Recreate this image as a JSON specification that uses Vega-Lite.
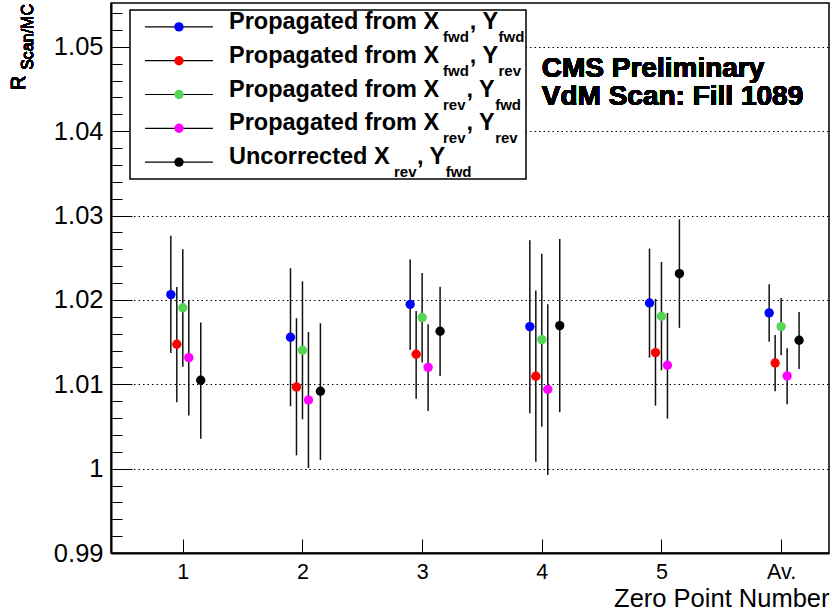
{
  "$schema": "https://vega.github.io/schema/vega-lite/v6.json",
  "width": 718,
  "height": 550,
  "autosize": {"type": "none"},
  "padding": {"left": 111, "top": 3, "right": 3, "bottom": 58},
  "background": "white",
  "config": {
    "view": {"stroke": "black", "strokeWidth": 1.5},
    "font": "Liberation Sans",
    "axis": {
      "domainColor": "black",
      "domainWidth": 2,
      "tickColor": "black",
      "tickWidth": 1,
      "labelColor": "black",
      "titleColor": "black",
      "labelFont": "Liberation Sans",
      "titleFont": "Liberation Sans",
      "titleFontWeight": "normal"
    }
  },
  "layer": [
    {
      "data": {
        "values": [
          {"series": "fwd-fwd", "x": 0.9, "r": 1.02063, "lo": 1.01370, "hi": 1.02762},
          {"series": "fwd-rev", "x": 0.95, "r": 1.01474, "lo": 1.00787, "hi": 1.02152},
          {"series": "rev-fwd", "x": 1.0, "r": 1.01908, "lo": 1.01209, "hi": 1.02600},
          {"series": "rev-rev", "x": 1.05, "r": 1.01316, "lo": 1.00629, "hi": 1.02000},
          {"series": "uncorrected", "x": 1.15, "r": 1.01048, "lo": 1.00355, "hi": 1.01731},
          {"series": "fwd-fwd", "x": 1.9, "r": 1.01557, "lo": 1.00739, "hi": 1.02376},
          {"series": "fwd-rev", "x": 1.95, "r": 1.00968, "lo": 1.00157, "hi": 1.01783},
          {"series": "rev-fwd", "x": 2.0, "r": 1.01404, "lo": 1.00585, "hi": 1.02221},
          {"series": "rev-rev", "x": 2.05, "r": 1.00814, "lo": 1.00008, "hi": 1.01620},
          {"series": "uncorrected", "x": 2.15, "r": 1.00917, "lo": 1.00103, "hi": 1.01723},
          {"series": "fwd-fwd", "x": 2.9, "r": 1.01948, "lo": 1.01410, "hi": 1.02478},
          {"series": "fwd-rev", "x": 2.95, "r": 1.01356, "lo": 1.00830, "hi": 1.01870},
          {"series": "rev-fwd", "x": 3.0, "r": 1.01791, "lo": 1.01257, "hi": 1.02320},
          {"series": "rev-rev", "x": 3.05, "r": 1.01201, "lo": 1.00683, "hi": 1.01711},
          {"series": "uncorrected", "x": 3.15, "r": 1.01629, "lo": 1.01099, "hi": 1.02155},
          {"series": "fwd-fwd", "x": 3.9, "r": 1.01684, "lo": 1.00657, "hi": 1.02707},
          {"series": "fwd-rev", "x": 3.95, "r": 1.01095, "lo": 1.00083, "hi": 1.02111},
          {"series": "rev-fwd", "x": 4.0, "r": 1.01530, "lo": 1.00498, "hi": 1.02546},
          {"series": "rev-rev", "x": 4.05, "r": 1.00940, "lo": 0.99925, "hi": 1.01948},
          {"series": "uncorrected", "x": 4.15, "r": 1.01696, "lo": 1.00669, "hi": 1.02723},
          {"series": "fwd-fwd", "x": 4.9, "r": 1.01964, "lo": 1.01316, "hi": 1.02609},
          {"series": "fwd-rev", "x": 4.95, "r": 1.01376, "lo": 1.00747, "hi": 1.02012},
          {"series": "rev-fwd", "x": 5.0, "r": 1.01806, "lo": 1.01166, "hi": 1.02450},
          {"series": "rev-rev", "x": 5.05, "r": 1.01225, "lo": 1.00593, "hi": 1.01845},
          {"series": "uncorrected", "x": 5.15, "r": 1.02312, "lo": 1.01669, "hi": 1.02956},
          {"series": "fwd-fwd", "x": 5.9, "r": 1.01846, "lo": 1.01505, "hi": 1.02187},
          {"series": "fwd-rev", "x": 5.95, "r": 1.01253, "lo": 1.00917, "hi": 1.01585},
          {"series": "rev-fwd", "x": 6.0, "r": 1.01684, "lo": 1.01344, "hi": 1.02024},
          {"series": "rev-rev", "x": 6.05, "r": 1.01099, "lo": 1.00763, "hi": 1.01427},
          {"series": "uncorrected", "x": 6.15, "r": 1.01522, "lo": 1.01181, "hi": 1.01858}
        ]
      },
      "layer": [
        {
          "mark": {"type": "rule", "color": "#111", "strokeWidth": 1.5},
          "encoding": {
            "x": {
              "field": "x", "type": "quantitative", "title": "Zero Point Number",
              "scale": {"domain": [0.4, 6.4], "nice": false, "zero": false},
              "axis": {
                "title": "Zero Point Number",
                "titleFontSize": 25.5,
                "titleAnchor": "end",
                "titleBaseline": "alphabetic",
                "titleY": 53,
                "values": [1, 2, 3, 4, 5, 6],
                "format": "d",
                "labelExpr": "datum.value == 6 ? 'Av.' : datum.label",
                "labelFontSize": 21.5,
                "labelFlush": false,
                "labelOverlap": false,
                "tickSize": -14,
                "labelPadding": 22,
                "grid": false
              }
            },
            "y": {
              "field": "lo", "type": "quantitative", "title": null,
              "scale": {"domain": [0.99, 1.0552], "nice": false, "zero": false},
              "axis": {
                "title": null,
                "tickCount": 100,
                "values": [0.99,0.992,0.994,0.996,0.998,1,1.002,1.004,1.006,1.008,1.01,1.012,1.014,1.016,1.018,1.02,1.022,1.024,1.026,1.028,1.03,1.032,1.034,1.036,1.038,1.04,1.042,1.044,1.046,1.048,1.05,1.052,1.054],
                "labelExpr": "abs(datum.value*100 - round(datum.value*100)) < 1e-6 ? format(datum.value, '.3~g') : ''",
                "labelFontSize": 25.5,
                "labelFlush": false,
                "labelOverlap": false,
                "labelPadding": 29,
                "tickSize": {"condition": {"test": "abs(datum.value*100 - round(datum.value*100)) < 1e-6", "value": -21}, "value": -11},
                "grid": true,
                "gridColor": "black",
                "gridDash": [1.5, 3],
                "gridWidth": 1,
                "gridOpacity": {"condition": {"test": "abs(datum.value*100 - round(datum.value*100)) < 1e-6", "value": 1}, "value": 0}
              }
            },
            "y2": {"field": "hi"}
          }
        },
        {
          "mark": {"type": "point", "filled": true, "size": 88, "opacity": 1},
          "encoding": {
            "x": {"field": "x", "type": "quantitative", "title": "Zero Point Number"},
            "y": {"field": "r", "type": "quantitative", "title": null},
            "color": {
              "field": "series", "type": "nominal", "legend": null,
              "scale": {"domain": ["fwd-fwd", "fwd-rev", "rev-fwd", "rev-rev", "uncorrected"], "range": ["#0000ff", "#ff0000", "#55d455", "#ff00ff", "#000000"]}
            }
          }
        },
        {
          "mark": {"type": "text", "text": "CMS Preliminary", "align": "left", "baseline": "alphabetic", "fontSize": 28, "fontWeight": "bold", "font": "Liberation Sans", "color": "black"},
          "encoding": {
            "x": {"datum": 4.0, "type": "quantitative", "title": "Zero Point Number"},
            "y": {"datum": 1.04648, "type": "quantitative", "title": null}
          }
        },
        {
          "mark": {"type": "text", "text": "VdM Scan: Fill 1089", "align": "left", "baseline": "alphabetic", "fontSize": 28, "fontWeight": "bold", "font": "Liberation Sans", "color": "black"},
          "encoding": {
            "x": {"datum": 4.0, "type": "quantitative", "title": "Zero Point Number"},
            "y": {"datum": 1.04312, "type": "quantitative", "title": null}
          }
        },
        {
          "mark": {"type": "text", "text": "R", "angle": 270, "align": "left", "baseline": "alphabetic", "fontSize": 20, "font": "Liberation Sans", "color": "black"},
          "encoding": {
            "x": {"datum": -0.3187, "type": "quantitative", "title": "Zero Point Number"},
            "y": {"datum": 1.0449, "type": "quantitative", "title": null}
          }
        },
        {
          "mark": {"type": "text", "text": "Scan/MC", "angle": 270, "align": "left", "baseline": "alphabetic", "fontSize": 16, "font": "Liberation Sans", "color": "black"},
          "encoding": {
            "x": {"datum": -0.2518, "type": "quantitative", "title": "Zero Point Number"},
            "y": {"datum": 1.04728, "type": "quantitative", "title": null}
          }
        }
      ]
    },
    {
      "data": {
        "values": [
          {"row": 1, "series": "fwd-fwd", "main": "Propagated from X", "s1": "fwd", "s2": "fwd"},
          {"row": 2, "series": "fwd-rev", "main": "Propagated from X", "s1": "fwd", "s2": "rev"},
          {"row": 3, "series": "rev-fwd", "main": "Propagated from X", "s1": "rev", "s2": "fwd"},
          {"row": 4, "series": "rev-rev", "main": "Propagated from X", "s1": "rev", "s2": "rev"},
          {"row": 5, "series": "uncorrected", "main": "Uncorrected X", "s1": "rev", "s2": "fwd"}
        ]
      },
      "layer": [
        {
          "transform": [{"filter": "datum.row == 1"}],
          "mark": {"type": "rect", "fill": "white", "stroke": "black", "strokeWidth": 1.5},
          "encoding": {
            "x": {"datum": 0.5588, "type": "quantitative", "title": "Zero Point Number"},
            "x2": {"datum": 3.868},
            "y": {"datum": 0.5, "type": "quantitative", "axis": null, "scale": {"domain": [0.2929, 16.565], "reverse": true, "nice": false, "zero": false}},
            "y2": {"datum": 5.5}
          }
        },
        {
          "mark": {"type": "rule", "color": "black", "strokeWidth": 1.2},
          "encoding": {
            "x": {"datum": 0.684, "type": "quantitative", "title": "Zero Point Number"},
            "x2": {"datum": 1.252},
            "y": {"field": "row", "type": "quantitative", "axis": null}
          }
        },
        {
          "mark": {"type": "point", "filled": true, "size": 88, "opacity": 1},
          "encoding": {
            "x": {"datum": 0.968, "type": "quantitative", "title": "Zero Point Number"},
            "y": {"field": "row", "type": "quantitative", "axis": null},
            "color": {"field": "series", "type": "nominal", "legend": null}
          }
        },
        {
          "mark": {"type": "text", "align": "left", "baseline": "alphabetic", "dy": 2, "fontSize": 23.5, "fontWeight": "bold", "font": "Liberation Sans", "color": "black"},
          "encoding": {
            "x": {"datum": 1.386, "type": "quantitative", "title": "Zero Point Number"},
            "y": {"field": "row", "type": "quantitative", "axis": null},
            "text": {"field": "main"}
          }
        },
        {
          "transform": [{"filter": "datum.row <= 4"}],
          "mark": {"type": "text", "align": "left", "baseline": "alphabetic", "dx": 214, "dy": 15, "fontSize": 15, "fontWeight": "bold", "font": "Liberation Sans", "color": "black"},
          "encoding": {
            "x": {"datum": 1.386, "type": "quantitative", "title": "Zero Point Number"},
            "y": {"field": "row", "type": "quantitative", "axis": null},
            "text": {"field": "s1"}
          }
        },
        {
          "transform": [{"filter": "datum.row == 5"}],
          "mark": {"type": "text", "align": "left", "baseline": "alphabetic", "dx": 165, "dy": 15, "fontSize": 15, "fontWeight": "bold", "font": "Liberation Sans", "color": "black"},
          "encoding": {
            "x": {"datum": 1.386, "type": "quantitative", "title": "Zero Point Number"},
            "y": {"field": "row", "type": "quantitative", "axis": null},
            "text": {"field": "s1"}
          }
        },
        {
          "transform": [{"filter": "datum.row <= 2"}],
          "mark": {"type": "text", "text": ", Y", "align": "left", "baseline": "alphabetic", "dx": 240.8, "dy": 2, "fontSize": 23.5, "fontWeight": "bold", "font": "Liberation Sans", "color": "black"},
          "encoding": {
            "x": {"datum": 1.386, "type": "quantitative", "title": "Zero Point Number"},
            "y": {"field": "row", "type": "quantitative", "axis": null}
          }
        },
        {
          "transform": [{"filter": "datum.row == 3 || datum.row == 4"}],
          "mark": {"type": "text", "text": ", Y", "align": "left", "baseline": "alphabetic", "dx": 237.5, "dy": 2, "fontSize": 23.5, "fontWeight": "bold", "font": "Liberation Sans", "color": "black"},
          "encoding": {
            "x": {"datum": 1.386, "type": "quantitative", "title": "Zero Point Number"},
            "y": {"field": "row", "type": "quantitative", "axis": null}
          }
        },
        {
          "transform": [{"filter": "datum.row == 5"}],
          "mark": {"type": "text", "text": ", Y", "align": "left", "baseline": "alphabetic", "dx": 188, "dy": 2, "fontSize": 23.5, "fontWeight": "bold", "font": "Liberation Sans", "color": "black"},
          "encoding": {
            "x": {"datum": 1.386, "type": "quantitative", "title": "Zero Point Number"},
            "y": {"field": "row", "type": "quantitative", "axis": null}
          }
        },
        {
          "transform": [{"filter": "datum.row <= 2"}],
          "mark": {"type": "text", "align": "left", "baseline": "alphabetic", "dx": 269.5, "dy": 15, "fontSize": 15, "fontWeight": "bold", "font": "Liberation Sans", "color": "black"},
          "encoding": {
            "x": {"datum": 1.386, "type": "quantitative", "title": "Zero Point Number"},
            "y": {"field": "row", "type": "quantitative", "axis": null},
            "text": {"field": "s2"}
          }
        },
        {
          "transform": [{"filter": "datum.row == 3 || datum.row == 4"}],
          "mark": {"type": "text", "align": "left", "baseline": "alphabetic", "dx": 266.2, "dy": 15, "fontSize": 15, "fontWeight": "bold", "font": "Liberation Sans", "color": "black"},
          "encoding": {
            "x": {"datum": 1.386, "type": "quantitative", "title": "Zero Point Number"},
            "y": {"field": "row", "type": "quantitative", "axis": null},
            "text": {"field": "s2"}
          }
        },
        {
          "transform": [{"filter": "datum.row == 5"}],
          "mark": {"type": "text", "align": "left", "baseline": "alphabetic", "dx": 216.7, "dy": 15, "fontSize": 15, "fontWeight": "bold", "font": "Liberation Sans", "color": "black"},
          "encoding": {
            "x": {"datum": 1.386, "type": "quantitative", "title": "Zero Point Number"},
            "y": {"field": "row", "type": "quantitative", "axis": null},
            "text": {"field": "s2"}
          }
        }
      ]
    }
  ],
  "resolve": {"scale": {"y": "independent"}}
}
